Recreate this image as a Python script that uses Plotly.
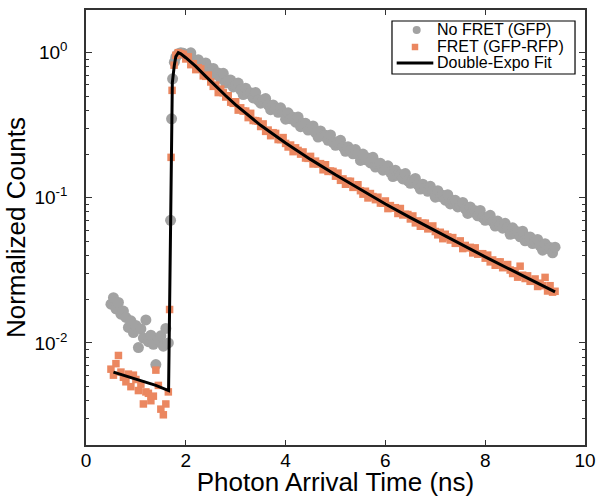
import plotly.graph_objects as go

# ---------------- data ----------------
# baseline before the excitation pulse
time_pre = [0.50, 0.55, 0.60, 0.65, 0.70, 0.75, 0.80, 0.85, 0.90, 0.95, 1.00, 1.05,
            1.10, 1.15, 1.20, 1.25, 1.30, 1.35, 1.40, 1.45, 1.50, 1.55, 1.60, 1.65]
gfp_pre = [0.0185, 0.0205, 0.0172, 0.0190, 0.0158, 0.0166, 0.0150, 0.0128, 0.0142, 0.0118, 0.0132, 0.0093,
           0.0125, 0.0108, 0.0144, 0.0102, 0.0113, 0.0098, 0.0071, 0.0105, 0.0112, 0.0095, 0.0126, 0.0100]
fret_pre = [0.0066, 0.0060, 0.0072, 0.0082, 0.0063, 0.0058, 0.0054, 0.0061, 0.0050, 0.0060, 0.0056, 0.0047,
            0.0052, 0.0038, 0.0046, 0.0045, 0.0040, 0.0043, 0.0065, 0.0051, 0.0035, 0.0032, 0.0038, 0.0046]

# rising edge
gfp_rise_t = [1.695, 1.715, 1.735, 1.770]
gfp_rise = [0.070, 0.35, 0.66, 0.86]
fret_rise_t = [1.675, 1.705, 1.725, 1.765]
fret_rise = [0.017, 0.19, 0.55, 0.82]

# decay
time_decay = [1.80, 1.85, 1.90, 1.95, 2.00, 2.05, 2.10, 2.15, 2.20, 2.25, 2.30, 2.35, 2.40, 2.45, 2.50, 2.55,
              2.60, 2.65, 2.70, 2.75, 2.80, 2.85, 2.90, 2.95, 3.00, 3.05, 3.10, 3.15, 3.20, 3.25, 3.30, 3.35,
              3.40, 3.45, 3.50, 3.55, 3.60, 3.65, 3.70, 3.75, 3.80, 3.85, 3.90, 3.95, 4.00, 4.05, 4.10, 4.15,
              4.20, 4.25, 4.30, 4.35, 4.40, 4.45, 4.50, 4.55, 4.60, 4.65, 4.70, 4.75, 4.80, 4.85, 4.90, 4.95,
              5.00, 5.05, 5.10, 5.15, 5.20, 5.25, 5.30, 5.35, 5.40, 5.45, 5.50, 5.55, 5.60, 5.65, 5.70, 5.75,
              5.80, 5.85, 5.90, 5.95, 6.00, 6.05, 6.10, 6.15, 6.20, 6.25, 6.30, 6.35, 6.40, 6.45, 6.50, 6.55,
              6.60, 6.65, 6.70, 6.75, 6.80, 6.85, 6.90, 6.95, 7.00, 7.05, 7.10, 7.15, 7.20, 7.25, 7.30, 7.35,
              7.40, 7.45, 7.50, 7.55, 7.60, 7.65, 7.70, 7.75, 7.80, 7.85, 7.90, 7.95, 8.00, 8.05, 8.10, 8.15,
              8.20, 8.25, 8.30, 8.35, 8.40, 8.45, 8.50, 8.55, 8.60, 8.65, 8.70, 8.75, 8.80, 8.85, 8.90, 8.95,
              9.00, 9.05, 9.10, 9.15, 9.20, 9.25, 9.30, 9.35, 9.40]

gfp_decay = [0.930, 0.985, 1.000, 0.990,
             0.965, 0.976, 0.997, 0.896, 0.832, 0.894, 0.842, 0.791, 0.849, 0.790, 0.707, 0.779,
             0.708, 0.724, 0.665, 0.721, 0.618, 0.649, 0.648, 0.581, 0.595, 0.617, 0.554, 0.515,
             0.569, 0.524, 0.530, 0.488, 0.531, 0.471, 0.449, 0.473, 0.483, 0.436, 0.405, 0.436,
             0.411, 0.388, 0.417, 0.389, 0.348, 0.385, 0.350, 0.359, 0.332, 0.360, 0.309, 0.326,
             0.326, 0.293, 0.301, 0.313, 0.281, 0.262, 0.289, 0.267, 0.270, 0.249, 0.271, 0.241,
             0.230, 0.243, 0.249, 0.224, 0.209, 0.225, 0.212, 0.201, 0.215, 0.201, 0.181, 0.200,
             0.183, 0.188, 0.174, 0.190, 0.163, 0.172, 0.173, 0.155, 0.160, 0.166, 0.150, 0.140,
             0.155, 0.143, 0.145, 0.135, 0.147, 0.131, 0.126, 0.132, 0.136, 0.123, 0.115, 0.124,
             0.117, 0.111, 0.120, 0.112, 0.101, 0.112, 0.102, 0.104, 0.0964, 0.105, 0.0907, 0.0957,
             0.0961, 0.0866, 0.0893, 0.0929, 0.0838, 0.0781, 0.0866, 0.0800, 0.0813, 0.0751, 0.0819, 0.0731,
             0.0700, 0.0738, 0.0758, 0.0685, 0.0639, 0.0691, 0.0654, 0.0618, 0.0667, 0.0624, 0.0561, 0.0621,
             0.0568, 0.0584, 0.0539, 0.0589, 0.0506, 0.0534, 0.0537, 0.0484, 0.0498, 0.0517, 0.0467, 0.0436,
             0.0483, 0.0447, 0.0454, 0.0418, 0.0457]

fret_decay = [0.960, 1.000, 0.985,
              0.974, 0.905, 0.936, 0.827, 0.840, 0.764, 0.788, 0.773, 0.693, 0.687, 0.701, 0.628,
              0.586, 0.598, 0.531, 0.561, 0.529, 0.495, 0.505, 0.456, 0.448, 0.459, 0.402, 0.417,
              0.396, 0.396, 0.357, 0.382, 0.341, 0.340, 0.337, 0.310, 0.323, 0.287, 0.293, 0.268,
              0.281, 0.278, 0.252, 0.252, 0.260, 0.237, 0.224, 0.231, 0.208, 0.221, 0.212, 0.200,
              0.207, 0.188, 0.187, 0.193, 0.171, 0.179, 0.171, 0.172, 0.156, 0.169, 0.152, 0.153,
              0.152, 0.141, 0.148, 0.132, 0.135, 0.124, 0.130, 0.130, 0.118, 0.119, 0.123, 0.112,
              0.106, 0.111, 0.0998, 0.107, 0.102, 0.0971, 0.101, 0.0920, 0.0918, 0.0951, 0.0843, 0.0884,
              0.0849, 0.0855, 0.0780, 0.0844, 0.0762, 0.0770, 0.0767, 0.0715, 0.0750, 0.0672, 0.0693, 0.0637,
              0.0669, 0.0669, 0.0611, 0.0617, 0.0640, 0.0586, 0.0556, 0.0579, 0.0523, 0.0561, 0.0538, 0.0512,
              0.0532, 0.0486, 0.0486, 0.0505, 0.0447, 0.0470, 0.0452, 0.0456, 0.0417, 0.0452, 0.0409, 0.0412,
              0.0412, 0.0384, 0.0403, 0.0362, 0.0373, 0.0343, 0.0361, 0.0362, 0.0330, 0.0333, 0.0347, 0.0318,
              0.0301, 0.0314, 0.0284, 0.0338, 0.0293, 0.0278, 0.0290, 0.0266, 0.0266, 0.0276, 0.0245, 0.0258,
              0.0248, 0.0283, 0.0228, 0.0248, 0.0224, 0.0227]

# double-exponential fit curve
fit_t = [0.55, 1.00, 1.40, 1.655, 1.675, 1.695, 1.705, 1.73, 1.77, 1.80, 1.85, 1.90, 2.00, 2.20, 2.40,
         2.60, 2.80, 3.00, 3.50, 4.00, 4.50, 5.00, 5.50, 6.00, 6.50, 7.00, 7.50, 8.00, 8.50, 9.00, 9.40]
fit_v = [0.0063, 0.0056, 0.0051, 0.0047, 0.018, 0.070, 0.19, 0.62, 0.82, 0.94, 1.00, 0.982, 0.923, 0.804, 0.687,
         0.586, 0.505, 0.437, 0.316, 0.239, 0.184, 0.144, 0.1135, 0.0906, 0.0730, 0.0592, 0.0481, 0.0392,
         0.0321, 0.0263, 0.0225]

series_names = ["No FRET (GFP)", "FRET (GFP-RFP)", "Double-Expo Fit"]
x_ticks = [0, 2, 4, 6, 8, 10]
y_ticks = [0.01, 0.1, 1]
y_ticktext = ["10<sup>-2</sup>", "10<sup>-1</sup>", "10<sup>0</sup>"]
y_minor = [m * d for d in (0.001, 0.01, 0.1) for m in range(2, 10)]

GRAY = "#a2a2a2"
ORANGE = "#eb8760"
AXIS = "#333333"
FONT = "Liberation Sans, Arial, Helvetica, sans-serif"

fig = go.Figure()
fig.add_trace(go.Scatter(
    x=time_pre + gfp_rise_t + time_decay, y=gfp_pre + gfp_rise + gfp_decay,
    mode="markers", name=series_names[0],
    marker=dict(symbol="circle", size=11, color=GRAY, line=dict(width=0)),
))
fig.add_trace(go.Scatter(
    x=time_pre + fret_rise_t + time_decay, y=fret_pre + fret_rise + fret_decay,
    mode="markers", name=series_names[1],
    marker=dict(symbol="square", size=7.5, color=ORANGE, line=dict(width=0)),
))
fig.add_trace(go.Scatter(
    x=fit_t, y=fit_v, mode="lines", name=series_names[2],
    line=dict(color="black", width=3),
))

# compact boxed legend (drawn in paper coordinates)
shapes = [
    dict(type="rect", xref="paper", yref="paper", x0=0.6132, x1=0.980, y0=0.8529, y1=0.9747,
         line=dict(color="black", width=1.2), fillcolor="white", layer="above"),
    dict(type="circle", xref="paper", yref="paper", x0=0.6547, x1=0.6707, y0=0.9448, y1=0.9632,
         line=dict(width=0), fillcolor=GRAY, layer="above"),
    dict(type="rect", xref="paper", yref="paper", x0=0.6528, x1=0.6658, y0=0.9075, y1=0.9224,
         line=dict(width=0), fillcolor=ORANGE, layer="above"),
    dict(type="line", xref="paper", yref="paper", x0=0.6226, x1=0.696, y0=0.8782, y1=0.8782,
         line=dict(color="black", width=3), layer="above"),
]
legend_rows_y = [0.9552, 0.9161, 0.8782]
annotations = [
    dict(xref="paper", yref="paper", x=0.6994, y=yy, text=name, showarrow=False,
         xanchor="left", yanchor="middle", font=dict(size=16, family=FONT, color="black"))
    for name, yy in zip(series_names, legend_rows_y)
]

fig.update_layout(
    width=598, height=497,
    margin=dict(l=86, r=13, t=10, b=52),
    paper_bgcolor="white", plot_bgcolor="white",
    font=dict(family=FONT, color="black"),
    showlegend=False,
    shapes=shapes,
    annotations=annotations,
)
fig.update_xaxes(
    range=[0, 10], tickmode="array", tickvals=x_ticks,
    ticks="inside", ticklen=5, tickwidth=1.2, tickcolor=AXIS,
    showline=True, linecolor=AXIS, linewidth=1.5, mirror="ticks",
    showgrid=False, zeroline=False, automargin=False,
    tickfont=dict(size=19, family=FONT), ticklabelstandoff=-3,
    title=dict(text="Photon Arrival Time (ns)", font=dict(size=26, family=FONT), standoff=5),
)
fig.update_yaxes(
    type="log", range=[-2.703, 0.294], tickmode="array",
    tickvals=y_ticks, ticktext=y_ticktext,
    ticks="inside", ticklen=6, tickwidth=1.2, tickcolor=AXIS,
    minor=dict(tickmode="array", tickvals=y_minor, ticks="inside", ticklen=3.5,
               tickwidth=1, tickcolor=AXIS, showgrid=False),
    showline=True, linecolor=AXIS, linewidth=1.5, mirror="ticks",
    showgrid=False, zeroline=False, automargin=True,
    tickfont=dict(size=19, family=FONT), ticklabelstandoff=13,
    title=dict(text="Normalized Counts", font=dict(size=26, family=FONT), standoff=1),
)

fig.write_html("out.html", config={"displayModeBar": False},
               post_script="document.body.style.margin='0';")
